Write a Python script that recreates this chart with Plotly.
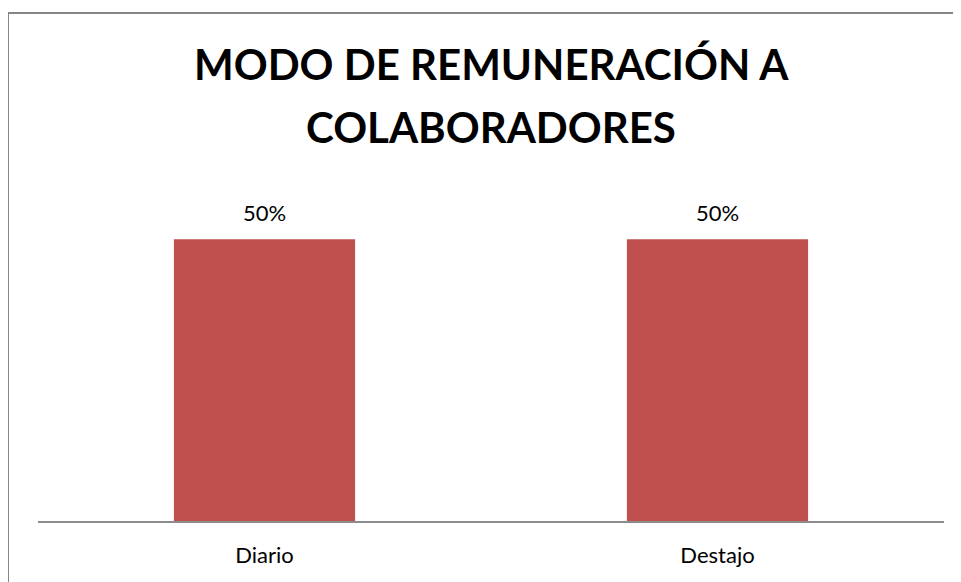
import plotly.graph_objects as go

categories = ["Diario", "Destajo"]
values = [0.5, 0.5]
title_lines = ["MODO DE REMUNERACIÓN A", "COLABORADORES"]

# page body has an 8px margin, so the figure is drawn 8px in from the top-left
OFF = 8
W, H = 961 - OFF, 582 - OFF
L, R, T, B = 38 - OFF, 961 - 944, 183 - OFF, 582 - 521
pw, ph = W - L - R, H - T - B

def px_x(px):  # page px -> paper
    return (px - OFF - L) / pw

def px_y(py):
    return (H - B - (py - OFF)) / ph

fig = go.Figure(go.Bar(
    x=categories, y=values,
    marker=dict(color="#C0504D", line=dict(width=0)),
    cliponaxis=False,
))

label_ann = [dict(x=c, y=v, xref="x", yref="y", text=f"{v:.0%}", showarrow=False,
                  yanchor="bottom", yshift=11,
                  font=dict(family="Lato", size=22, color="#000000"))
             for c, v in zip(categories, values)]

fig.update_layout(
    width=W, height=H,
    margin=dict(l=L, r=R, t=T, b=B, pad=0),
    paper_bgcolor="white", plot_bgcolor="white",
    bargap=0.6,
    showlegend=False,
    xaxis=dict(showline=True, linecolor="#8c8c8c", linewidth=2,
               showgrid=False, ticks="", zeroline=False,
               tickfont=dict(family="Lato", size=22, color="#000000"),
               ticklabelstandoff=14),
    yaxis=dict(range=[0, 0.6], visible=False, showgrid=False, zeroline=False),
    annotations=label_ann + [
        dict(text=f"<b>{title_lines[0]}</b>", x=0.5, y=px_y(64), xref="paper", yref="paper",
             showarrow=False, font=dict(family="Lato", size=42, color="#000000"),
             xanchor="center", yanchor="middle"),
        dict(text=f"<b>{title_lines[1]}</b>", x=0.5, y=px_y(127), xref="paper", yref="paper",
             showarrow=False, font=dict(family="Lato", size=42, color="#000000"),
             xanchor="center", yanchor="middle"),
    ],
    shapes=[dict(type="rect", xref="paper", yref="paper",
                 x0=px_x(8), y0=px_y(H + 40), x1=px_x(W + 40), y1=px_y(13),
                 line=dict(color="#868686", width=2), fillcolor="rgba(0,0,0,0)", layer="below")],
)

fig.write_html("out.html")
